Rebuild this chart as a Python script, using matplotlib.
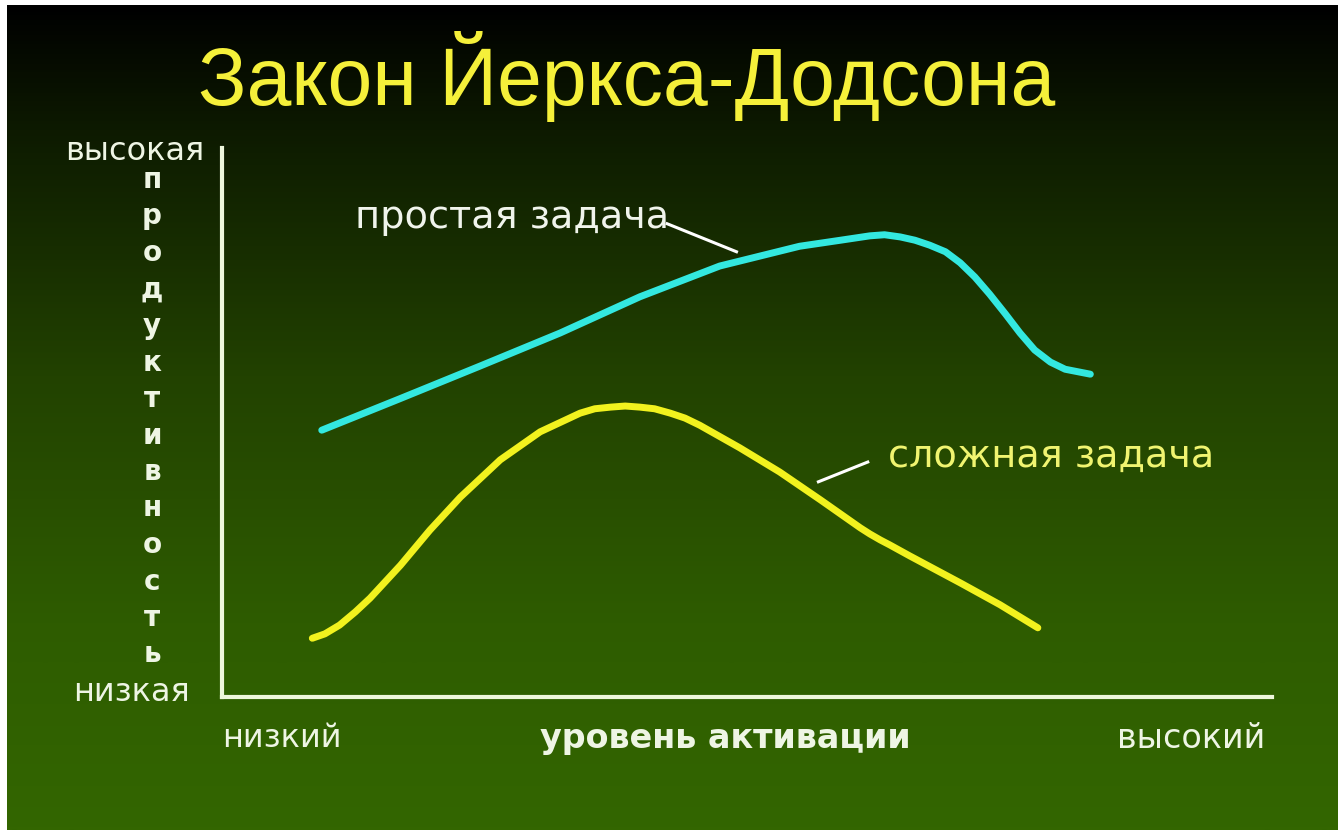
import numpy as np
import matplotlib.pyplot as plt
from matplotlib.colors import LinearSegmentedColormap

# --- Data (activation 0..100, productivity 0..100) ---
simple_x = [9.5, 16.9, 24.6, 32.2, 39.8, 47.4, 55.0, 58.9, 61.7, 63.1, 64.6,
            66.0, 67.4, 68.9, 70.3, 71.7, 73.1, 74.6, 76.0, 77.4, 78.9, 80.3,
            82.7]
simple_y = [48.6, 54.3, 60.3, 66.3, 72.9, 78.5, 82.1, 83.2, 84.0, 84.2, 83.8,
            83.2, 82.3, 81.1, 79.1, 76.5, 73.4, 69.8, 66.3, 63.2, 61.0, 59.7,
            58.8]

complex_x = [8.6, 9.8, 11.2, 12.7, 14.1, 17.0, 19.8, 22.7, 26.5, 30.3, 34.1,
             35.5, 37.0, 38.4, 39.8, 41.2, 42.7, 44.1, 45.5, 49.3, 53.1, 57.0,
             60.8, 61.7, 62.7, 63.6, 65.5, 70.3, 74.1, 77.7]
complex_y = [10.7, 11.5, 13.1, 15.5, 18.0, 24.0, 30.4, 36.4, 43.2, 48.3, 51.7,
             52.5, 52.8, 53.0, 52.8, 52.5, 51.7, 50.8, 49.5, 45.4, 41.0, 35.9,
             30.8, 29.7, 28.6, 27.7, 25.7, 20.8, 16.8, 12.6]

title = "Закон Йеркса-Додсона"
y_letters = list("продуктивность")
y_high, y_low = "высокая", "низкая"
x_low, x_high, x_label = "низкий", "высокий", "уровень активации"
simple_label, complex_label = "простая задача", "сложная задача"

W, H = 1338, 830
fig = plt.figure(figsize=(W / 100, H / 100), dpi=100)
fig.patch.set_facecolor("white")

def fx(px):
    return px / W

def fy(py):
    return 1 - py / H

# --- Background gradient ---
bg = fig.add_axes([fx(7), 0, 1 - fx(7), fy(5)])
bg.set_axis_off()
cmap = LinearSegmentedColormap.from_list(
    "bg", [(0.0, "#000000"), (0.15, "#0d1a00"), (0.45, "#224200"),
           (0.75, "#2e5c00"), (1.0, "#336600")])
grad = np.linspace(0, 1, 400).reshape(-1, 1)
bg.imshow(grad, aspect="auto", cmap=cmap, extent=[0, 1, 1, 0])
bg.set_xlim(0, 1)
bg.set_ylim(1, 0)

# --- Main axes ---
ax = fig.add_axes([fx(222), fy(697), fx(1272) - fx(222), fy(148) - fy(697)])
ax.patch.set_alpha(0)
ax.set_xlim(0, 100)
ax.set_ylim(0, 100)
for s in ["top", "right"]:
    ax.spines[s].set_visible(False)
for s in ["left", "bottom"]:
    ax.spines[s].set_color("#eef7dc")
    ax.spines[s].set_linewidth(3)
ax.set_xticks([])
ax.set_yticks([])

ax.plot(simple_x, simple_y, color="#33e8e0", lw=5, solid_capstyle="round",
        solid_joinstyle="round", clip_on=False)
ax.plot(complex_x, complex_y, color="#f2f21e", lw=5, solid_capstyle="round",
        solid_joinstyle="round", clip_on=False)

# leader lines
ax.plot([42.4, 49.0], [86.2, 81.1], color="white", lw=2.2)
ax.plot([56.8, 61.5], [39.2, 42.8], color="white", lw=2.2)

ax.text(42.6, 87.2, simple_label, color="#f0f4ec", fontsize=27.5,
        ha="right", va="center")
ax.text(63.4, 43.8, complex_label, color="#f0f470", fontsize=27.5,
        ha="left", va="center")

# --- Texts ---
fig.text(fx(627), fy(76), title, color="#f5f03a", fontsize=58,
         family=["Liberation Sans", "DejaVu Sans"], ha="center", va="center")

txt = "#eef5e4"
fig.text(fx(135), fy(152), y_high, color=txt, fontsize=23, ha="center", va="center")
fig.text(fx(132), fy(692), y_low, color=txt, fontsize=23, ha="center", va="center")
for i, ch in enumerate(y_letters):
    fig.text(fx(152), fy(180 + i * 36.5), ch, color=txt, fontsize=20,
             fontweight="bold", ha="center", va="center")

fig.text(fx(222), fy(738), x_low, color=txt, fontsize=23, ha="left", va="center")
fig.text(fx(725), fy(738), x_label, color=txt, fontsize=24, fontweight="bold",
         ha="center", va="center")
fig.text(fx(1265), fy(738), x_high, color=txt, fontsize=24, ha="right", va="center")

fig.savefig("out.png", dpi=100, facecolor=fig.get_facecolor())
